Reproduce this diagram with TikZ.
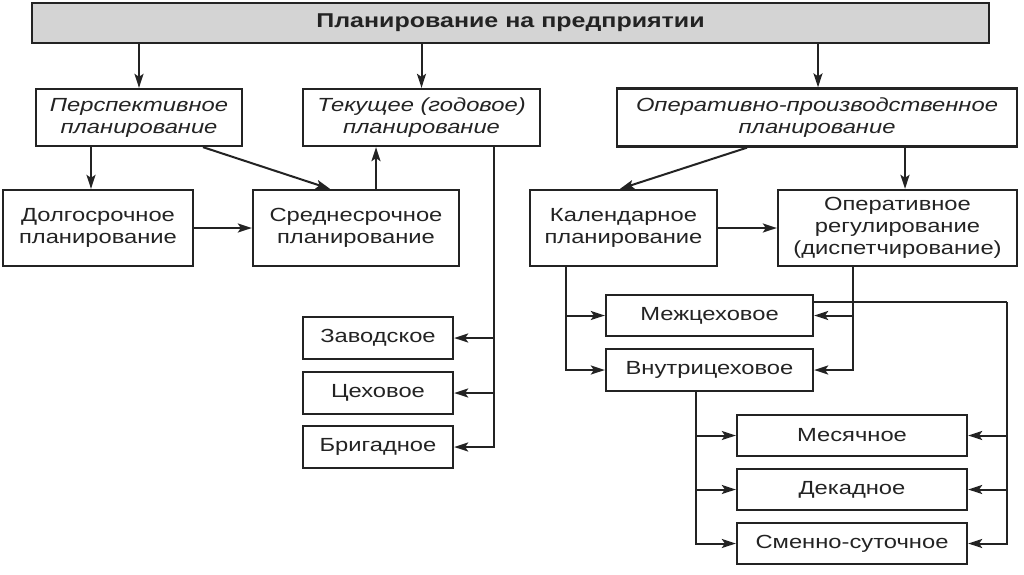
\documentclass[tikz,border=0pt]{standalone}
\usepackage{fontspec}
\setmainfont[FakeStretch=1.25]{Liberation Sans}
\usetikzlibrary{arrows.meta}
\definecolor{ink}{RGB}{35,35,35}
\definecolor{topfill}{RGB}{212,212,212}
\begin{document}
\begin{tikzpicture}[x=1pt,y=-1pt,
  box/.style={draw=ink, line width=2.3pt, text=ink, align=center, inner sep=0pt, font=\fontsize{19}{22}\selectfont},
  itbox/.style={box, font=\itshape\fontsize{19}{22}\selectfont},
  arr/.style={draw=ink, line width=2pt, -{Stealth[length=14pt,width=9pt,inset=3pt]}},
  ln/.style={draw=ink, line width=2pt}]
\useasboundingbox (0,0) rectangle (1024,574);
\fill[white] (0,0) rectangle (1024,574);

\node[box, minimum width=957pt, minimum height=40pt, fill=topfill, font=\bfseries\fontsize{20}{22}\selectfont] (top) at (510.5,23) {Планирование на предприятии};

\node[itbox, minimum width=206pt, minimum height=57pt] (persp) at (139,117.5) {Перспективное\\планирование};
\node[itbox, minimum width=237pt, minimum height=57pt] (tek) at (421.5,117.5) {Текущее (годовое)\\планирование};
\node[itbox, minimum width=400pt, minimum height=58pt] (opp) at (817,117.5) {Оперативно-производственное\\планирование};

\node[box, minimum width=190pt, minimum height=76pt] (dolgo) at (98,228) {Долгосрочное\\планирование};
\node[box, minimum width=206pt, minimum height=76pt] (sred) at (356,228) {Среднесрочное\\планирование};
\node[box, minimum width=187pt, minimum height=76pt] (kal) at (623.5,228) {Календарное\\планирование};
\node[box, minimum width=239pt, minimum height=76pt] (oper) at (897.5,228) {Оперативное\\регулирование\\(диспетчирование)};

\node[box, minimum width=150pt, minimum height=42pt] (zav) at (378,338) {Заводское};
\node[box, minimum width=150pt, minimum height=42pt] (tsekh) at (378,393) {Цеховое};
\node[box, minimum width=150pt, minimum height=42pt] (brig) at (378,447) {Бригадное};

\node[box, minimum width=207pt, minimum height=41pt] (mezh) at (709.5,315.5) {Межцеховое};
\node[box, minimum width=207pt, minimum height=42pt] (vnutri) at (709.5,370) {Внутрицеховое};

\node[box, minimum width=230pt, minimum height=41pt] (mes) at (852,435.5) {Месячное};
\node[box, minimum width=230pt, minimum height=41pt] (dek) at (852,489.5) {Декадное};
\node[box, minimum width=230pt, minimum height=41pt] (smen) at (852,543.5) {Сменно-суточное};

% top level
\draw[arr] (top.south -| persp.north) -- (persp.north);
\draw[arr] (top.south -| tek.north) -- (tek.north);
\draw[arr] (top.south -| 818,0) -- (opp.north -| 818,0);

% left branch
\draw[arr] (persp.south -| 91,0) -- (dolgo.north -| 91,0);
\draw[arr] (persp.south -| 203,0) -- (sred.north -| 330,0);
\draw[arr] (sred.north -| 376,0) -- (tek.south -| 376,0);
\draw[arr] (dolgo.east) -- (sred.west);

\coordinate (tekdown) at (tek.south -| 494,0);
\draw[ln] (tekdown) -- (tekdown |- brig.east);
\draw[arr] (tekdown) |- (zav.east);
\draw[arr] (tekdown) |- (tsekh.east);
\draw[arr] (tekdown) |- (brig.east);

% right branch
\draw[arr] (opp.south -| 747,0) -- (kal.north -| 620,0);
\draw[arr] (opp.south -| 905,0) -- (oper.north -| 905,0);
\draw[arr] (kal.east) -- (oper.west);

\coordinate (kaldown) at (kal.south -| 566,0);
\draw[arr] (kaldown) |- (mezh.west);
\draw[arr] (kaldown) |- (vnutri.west);

\coordinate (operdown) at (oper.south -| 853,0);
\draw[arr] (operdown) |- (mezh.east);
\draw[arr] (operdown) |- (vnutri.east);

\coordinate (rline) at (1007,302);
\draw[ln] (mezh.east |- rline) -- (rline);
\draw[arr] (rline) |- (mes.east);
\draw[arr] (rline) |- (dek.east);
\draw[arr] (rline) |- (smen.east);

\coordinate (vdown) at (vnutri.south -| 696,0);
\draw[arr] (vdown) |- (mes.west);
\draw[arr] (vdown) |- (dek.west);
\draw[arr] (vdown) |- (smen.west);
\end{tikzpicture}
\end{document}
